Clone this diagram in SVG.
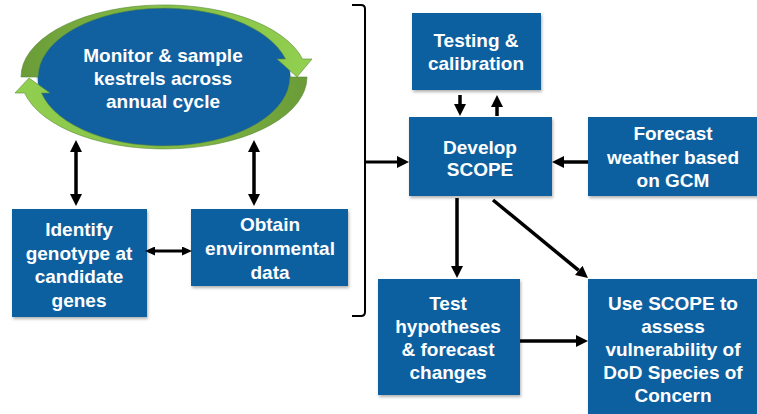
<svg xmlns="http://www.w3.org/2000/svg" width="757" height="414" viewBox="0 0 757 414">
  <style>
    .box { fill: #11609f; filter: url(#shadow); }
    .lbl { font-family: "Liberation Sans", Arial, sans-serif; font-weight: bold; font-size: 19px; fill: #ffffff; text-anchor: middle; }
    .arr { stroke: #000000; stroke-width: 3.5; fill: none; }
    .arr-thin { stroke: #000000; stroke-width: 3; fill: none; }
    .brk { stroke: #000000; stroke-width: 2; fill: none; }
  </style>
  <defs>
    <filter id="shadow" x="-10%" y="-10%" width="125%" height="125%">
      <feDropShadow dx="1" dy="2" stdDeviation="1.5" flood-color="#000000" flood-opacity="0.3"/>
    </filter>
    <marker id="head" markerUnits="userSpaceOnUse" markerWidth="12" markerHeight="12" refX="0" refY="6" orient="auto-start-reverse" viewBox="0 0 12 12">
      <path d="M0,0 L12,6 L0,12 z" fill="#000000"/>
    </marker>
    <marker id="headSm" markerUnits="userSpaceOnUse" markerWidth="10" markerHeight="9" refX="0" refY="4.5" orient="auto-start-reverse" viewBox="0 0 10 9">
      <path d="M0,0 L10,4.5 L0,9 z" fill="#000000"/>
    </marker>
    <linearGradient id="greenTop" x1="21" y1="0" x2="312" y2="0" gradientUnits="userSpaceOnUse">
      <stop offset="0" stop-color="#6a9b38"/>
      <stop offset="0.45" stop-color="#84bd44"/>
      <stop offset="1" stop-color="#92d050"/>
    </linearGradient>
    <linearGradient id="greenBot" x1="307" y1="0" x2="15" y2="0" gradientUnits="userSpaceOnUse">
      <stop offset="0" stop-color="#6a9b38"/>
      <stop offset="0.45" stop-color="#84bd44"/>
      <stop offset="1" stop-color="#92d050"/>
    </linearGradient>
  </defs>

  <!-- Monitoring cycle: blue ellipse with two curved green arrows -->
  <g id="monitor">
    <ellipse cx="164" cy="77" rx="127" ry="70" fill="#11609f" stroke="#c9d6e2" stroke-width="1.2"/>
    <path d="M21,77 A143,72 0 0 1 302.5,59 L312,59 L297,77 L277,59 L285.6,59 A126,69 0 0 0 38,77 Z" fill="url(#greenTop)" stroke="#5b8a3a" stroke-width="0.6"/>
    <path d="M307,77 A143,72 0 0 1 24.6,93 L15,93 L29,78 L50,93 L41.4,93 A126,69 0 0 0 290,77 Z" fill="url(#greenBot)" stroke="#5b8a3a" stroke-width="0.6"/>
    <text class="lbl" x="163" y="62">Monitor &amp; sample</text>
    <text class="lbl" x="163" y="85">kestrels across</text>
    <text class="lbl" x="163" y="108">annual cycle</text>
  </g>

  <g id="identify">
    <rect class="box" x="12" y="209" width="135" height="108"/>
    <text class="lbl" x="79" y="236">Identify</text>
    <text class="lbl" x="79" y="259.5">genotype at</text>
    <text class="lbl" x="79" y="283">candidate</text>
    <text class="lbl" x="79" y="306.5">genes</text>
  </g>

  <g id="obtain">
    <rect class="box" x="191" y="209" width="157" height="77"/>
    <text class="lbl" x="270" y="231">Obtain</text>
    <text class="lbl" x="270" y="255">environmental</text>
    <text class="lbl" x="270" y="279">data</text>
  </g>

  <g id="testing">
    <rect class="box" x="412" y="13" width="129" height="77"/>
    <text class="lbl" x="476" y="47">Testing &amp;</text>
    <text class="lbl" x="476" y="70">calibration</text>
  </g>

  <g id="develop">
    <rect class="box" x="409" y="117" width="143" height="79"/>
    <text class="lbl" x="480" y="154">Develop</text>
    <text class="lbl" x="480" y="176">SCOPE</text>
  </g>

  <g id="forecast">
    <rect class="box" x="588" y="117" width="172" height="79"/>
    <text class="lbl" x="673" y="140">Forecast</text>
    <text class="lbl" x="673" y="164">weather based</text>
    <text class="lbl" x="673" y="187">on GCM</text>
  </g>

  <g id="test">
    <rect class="box" x="378" y="279" width="142" height="116"/>
    <text class="lbl" x="448" y="310">Test</text>
    <text class="lbl" x="448" y="333">hypotheses</text>
    <text class="lbl" x="448" y="356">&amp; forecast</text>
    <text class="lbl" x="448" y="379">changes</text>
  </g>

  <g id="use">
    <rect class="box" x="588" y="279" width="172" height="140"/>
    <text class="lbl" x="673" y="310">Use SCOPE to</text>
    <text class="lbl" x="673" y="333">assess</text>
    <text class="lbl" x="673" y="356">vulnerability of</text>
    <text class="lbl" x="673" y="379">DoD Species of</text>
    <text class="lbl" x="673" y="402">Concern</text>
  </g>

  <g id="connectors">
    <!-- two-way links between monitoring and the data boxes -->
    <line class="arr" x1="76" y1="152" x2="76" y2="194" marker-start="url(#head)" marker-end="url(#head)"/>
    <line class="arr" x1="254" y1="152" x2="254" y2="194" marker-start="url(#head)" marker-end="url(#head)"/>
    <line class="arr-thin" x1="155" y1="251" x2="182" y2="251" marker-start="url(#headSm)" marker-end="url(#headSm)"/>
    <!-- bracket gathering the left-hand work into SCOPE -->
    <path class="brk" d="M352,5 L361,5 Q365,5 365,9 L365,312 Q365,316 361,316 L352,316"/>
    <line class="arr-thin" x1="365" y1="162" x2="397" y2="162" marker-end="url(#head)"/>
    <!-- testing loop -->
    <line class="arr" x1="460" y1="95" x2="460" y2="104" marker-end="url(#head)"/>
    <line class="arr" x1="497" y1="116" x2="497" y2="107" marker-end="url(#head)"/>
    <!-- climate forcing -->
    <line class="arr" x1="588" y1="162" x2="564" y2="162" marker-end="url(#head)"/>
    <!-- outputs -->
    <line class="arr" x1="457" y1="198" x2="457" y2="266" marker-end="url(#head)"/>
    <line class="arr" x1="493" y1="200" x2="578.7" y2="270.4" marker-end="url(#head)"/>
    <line class="arr" x1="520" y1="341" x2="576" y2="341" marker-end="url(#head)"/>
  </g>
</svg>
